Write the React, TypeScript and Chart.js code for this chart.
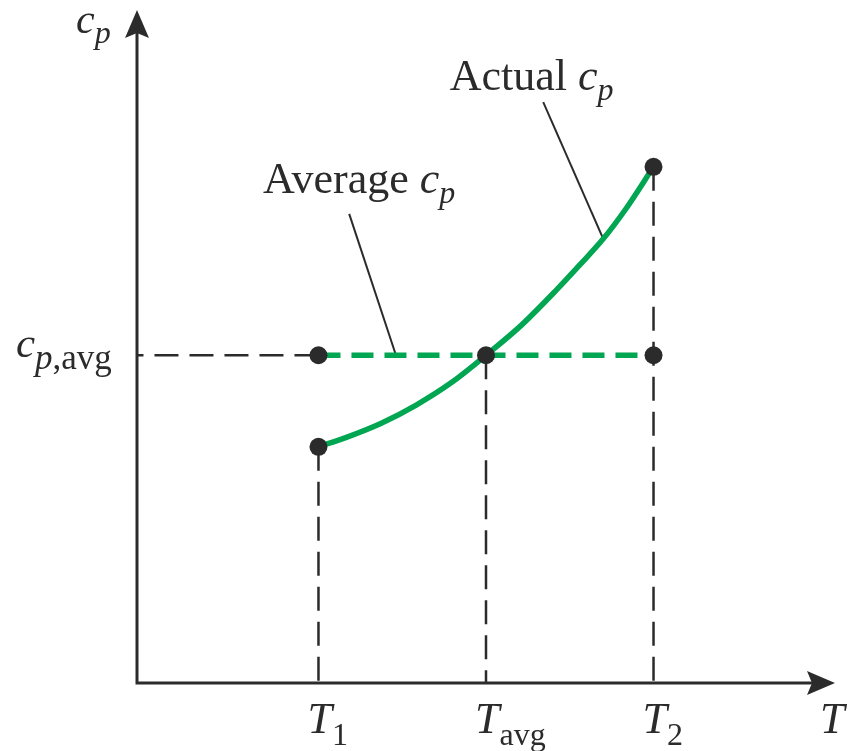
import React, { useEffect, useRef } from "react";
import { Chart, registerables } from "chart.js";

Chart.register(...registerables);

// Temperatures on the T axis: T1, Tavg, T2
const tempTicks = [2.6, 5.0, 7.4];
const tickMain = ["T", "T", "T"];
const tickSub = ["1", "avg", "2"];

// Specific heat values
const cpAtT1 = 3.51;
const cpAvg = 4.87;
const cpAtT2 = 7.67;

// Actual cp(T) curve samples
const actualT = [2.6, 3.0, 3.5, 4.0, 4.5, 5.0, 5.5, 6.0, 6.35, 6.68, 7.0, 7.4];
const actualCp = [3.51, 3.65, 3.86, 4.13, 4.46, 4.87, 5.31, 5.83, 6.22, 6.6, 7.04, 7.67];

// Callout labels and their leader lines (in axis units)
const avgLabelAt = [1.805, 7.28];
const avgLeader = [[3.04, 6.97], [3.71, cpAvg]];
const actualLabelAt = [4.48, 8.81];
const actualLeader = [[5.82, 8.63], [6.68, 6.6]];

const GREEN = "#00a651";
const INK = "#2b2b2b";
const SERIF = '"Liberation Serif", "Times New Roman", serif';

const xy = (xs: number[], ys: number[]) => xs.map((x, i) => ({ x, y: ys[i] }));

function drawSub(
  ctx: CanvasRenderingContext2D,
  x: number,
  y: number,
  parts: { t: string; size: number; italic?: boolean; dy?: number }[]
) {
  let cx = x;
  for (const p of parts) {
    ctx.font = `${p.italic ? "italic " : ""}${p.size}px ${SERIF}`;
    ctx.fillText(p.t, cx, y + (p.dy || 0));
    cx += ctx.measureText(p.t).width;
  }
  return cx;
}

const decorations = {
  id: "decorations",
  beforeDatasetsDraw(chart: any) {
    const { ctx, chartArea } = chart;
    const { left, right, top, bottom } = chartArea;
    ctx.save();
    ctx.strokeStyle = INK;
    ctx.fillStyle = INK;
    ctx.lineWidth = 3;
    ctx.beginPath();
    ctx.moveTo(left, top + 20);
    ctx.lineTo(left, bottom);
    ctx.lineTo(right - 20, bottom);
    ctx.stroke();
    // arrow heads
    const head = 28;
    const half = 12;
    ctx.beginPath();
    ctx.moveTo(left, top);
    ctx.lineTo(left - half, top + head);
    ctx.lineTo(left, top + head - 5);
    ctx.lineTo(left + half, top + head);
    ctx.closePath();
    ctx.fill();
    ctx.beginPath();
    ctx.moveTo(right, bottom);
    ctx.lineTo(right - head, bottom - half);
    ctx.lineTo(right - head + 5, bottom);
    ctx.lineTo(right - head, bottom + half);
    ctx.closePath();
    ctx.fill();
    ctx.restore();
  },
  afterDatasetsDraw(chart: any) {
    const { ctx, chartArea, scales } = chart;
    const xs = scales.x;
    const ys = scales.y;
    ctx.save();
    ctx.fillStyle = INK;
    ctx.textBaseline = "alphabetic";
    ctx.textAlign = "left";

    // T-axis tick labels
    tempTicks.forEach((t, i) => {
      const px = xs.getPixelForValue(t);
      drawSub(ctx, px - 11, chartArea.bottom + 50, [
        { t: tickMain[i], size: 44, italic: true },
        { t: tickSub[i], size: 32, dy: 12 },
      ]);
    });
    // axis titles
    drawSub(ctx, chartArea.right - 15, chartArea.bottom + 50, [{ t: "T", size: 44, italic: true }]);
    drawSub(ctx, chartArea.left - 61, chartArea.top + 23, [
      { t: "c", size: 42, italic: true },
      { t: "p", size: 32, italic: true, dy: 10 },
    ]);
    // cp,avg label on the vertical axis
    const yAvg = ys.getPixelForValue(cpAvg);
    drawSub(ctx, 16, yAvg + 2, [
      { t: "c", size: 43, italic: true },
      { t: "p", size: 35, italic: true, dy: 12 },
      { t: ",avg", size: 35, dy: 12 },
    ]);
    // callouts
    drawSub(ctx, xs.getPixelForValue(avgLabelAt[0]), ys.getPixelForValue(avgLabelAt[1]), [
      { t: "Average ", size: 44 },
      { t: "c", size: 44, italic: true },
      { t: "p", size: 32, italic: true, dy: 10 },
    ]);
    drawSub(ctx, xs.getPixelForValue(actualLabelAt[0]), ys.getPixelForValue(actualLabelAt[1]), [
      { t: "Actual ", size: 44 },
      { t: "c", size: 44, italic: true },
      { t: "p", size: 32, italic: true, dy: 10 },
    ]);
    ctx.restore();
  },
};

export default function App() {
  const canvasRef = useRef<HTMLCanvasElement | null>(null);

  useEffect(() => {
    document.body.style.margin = "0";
    const canvas = canvasRef.current;
    if (!canvas) return;

    const guide = { borderColor: INK, borderWidth: 2.5, borderDash: [24, 11], pointRadius: 0, showLine: true };

    const chart = new Chart(canvas, {
      type: "scatter",
      data: {
        datasets: [
          {
            label: "points",
            data: [
              { x: tempTicks[0], y: cpAtT1 },
              { x: tempTicks[0], y: cpAvg },
              { x: tempTicks[1], y: cpAvg },
              { x: tempTicks[2], y: cpAvg },
              { x: tempTicks[2], y: cpAtT2 },
            ],
            pointRadius: 9,
            pointBackgroundColor: INK,
            pointBorderWidth: 0,
            showLine: false,
            order: 0,
          },
          {
            label: "Actual cp",
            data: xy(actualT, actualCp),
            borderColor: GREEN,
            borderWidth: 5.5,
            pointRadius: 0,
            showLine: true,
            cubicInterpolationMode: "monotone",
            order: 1,
          },
          {
            label: "Average cp",
            data: [
              { x: tempTicks[0], y: cpAvg },
              { x: tempTicks[2], y: cpAvg },
            ],
            borderColor: GREEN,
            borderWidth: 5.5,
            borderDash: [22, 11],
            pointRadius: 0,
            showLine: true,
            order: 2,
          },
          { ...guide, label: "h", data: [{ x: tempTicks[0], y: cpAvg }, { x: 0, y: cpAvg }], order: 3 },
          { ...guide, label: "v1", data: [{ x: tempTicks[0], y: cpAtT1 }, { x: tempTicks[0], y: 0 }], order: 3 },
          { ...guide, label: "v2", data: [{ x: tempTicks[1], y: cpAvg }, { x: tempTicks[1], y: 0 }], order: 3 },
          { ...guide, label: "v3", data: [{ x: tempTicks[2], y: cpAtT2 }, { x: tempTicks[2], y: 0 }], order: 3 },
          {
            label: "avg leader",
            data: avgLeader.map(([x, y]) => ({ x, y })),
            borderColor: INK,
            borderWidth: 2,
            pointRadius: 0,
            showLine: true,
            order: 4,
          },
          {
            label: "actual leader",
            data: actualLeader.map(([x, y]) => ({ x, y })),
            borderColor: INK,
            borderWidth: 2,
            pointRadius: 0,
            showLine: true,
            order: 4,
          },
        ] as any,
      },
      options: {
        responsive: false,
        animation: false,
        devicePixelRatio: 1,
        layout: { padding: { left: 137, right: 22, top: 10, bottom: 68 } },
        plugins: { legend: { display: false }, tooltip: { enabled: false } },
        scales: {
          x: { type: "linear", min: 0, max: 10, display: false },
          y: { type: "linear", min: 0, max: 10, display: false },
        },
        elements: { line: { borderCapStyle: "butt" } },
      },
      plugins: [decorations],
    });

    return () => chart.destroy();
  }, []);

  return (
    <div style={{ width: 857, height: 751, background: "#fff" }}>
      <canvas ref={canvasRef} width={857} height={751} style={{ display: "block" }} />
    </div>
  );
}
